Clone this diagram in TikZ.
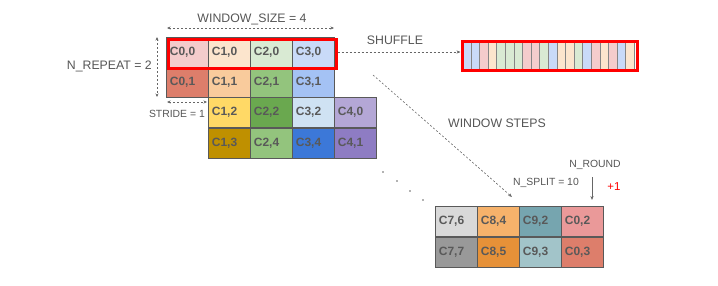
\documentclass[tikz,border=0pt]{standalone}
\usepackage{fontspec}
\setmainfont{Liberation Sans}
\usetikzlibrary{arrows.meta}
\definecolor{txt}{HTML}{595959}
\definecolor{lbl}{HTML}{555555}
\definecolor{ln}{HTML}{666666}
\definecolor{redb}{HTML}{FF0000}
\definecolor{cA}{HTML}{F4CCCC}
\definecolor{cB}{HTML}{FCE5CD}
\definecolor{cC}{HTML}{D9EAD3}
\definecolor{cD}{HTML}{C9DAF8}
\definecolor{cE}{HTML}{DD7E6B}
\definecolor{cF}{HTML}{F9CB9C}
\definecolor{cG}{HTML}{93C47D}
\definecolor{cH}{HTML}{A4C2F4}
\definecolor{cI}{HTML}{FFD966}
\definecolor{cJ}{HTML}{6AA84F}
\definecolor{cK}{HTML}{CFE2F3}
\definecolor{cL}{HTML}{B4A7D6}
\definecolor{cM}{HTML}{BF9000}
\definecolor{cN}{HTML}{3C78D8}
\definecolor{cO}{HTML}{8E7CC3}
\definecolor{cP}{HTML}{D9D9D9}
\definecolor{cQ}{HTML}{F6B26B}
\definecolor{cR}{HTML}{76A5AF}
\definecolor{cS}{HTML}{EA9999}
\definecolor{cT}{HTML}{999999}
\definecolor{cU}{HTML}{E69138}
\definecolor{cV}{HTML}{A2C4C9}
\begin{document}
\begin{tikzpicture}[x=1pt,y=-1pt,
  cell/.style={draw=txt, line width=0.7pt, fill=#1, anchor=north west, minimum height=30pt,
    text width=35pt, align=left, inner xsep=3.5pt, inner ysep=0pt,
    font=\fontsize{12}{14}\selectfont\bfseries, text=txt},
  stripe/.style={draw=ln!80, line width=0.5pt, fill=#1, anchor=north west,
    minimum width=8.6pt, minimum height=29pt, inner sep=0pt},
  lab/.style={font=\fontsize{12.3}{14}\selectfont, text=lbl, inner sep=0pt},
  slab/.style={font=\fontsize{10.4}{12}\selectfont, text=lbl, inner sep=0pt},
  dim/.style={draw=ln, line width=0.6pt, dash pattern=on 2pt off 2pt,
    {Stealth[length=3.5pt,width=3pt]}-{Stealth[length=3.5pt,width=3pt]}},
  darr/.style={draw=ln, line width=0.6pt, dash pattern=on 2pt off 2pt,
    -{Stealth[length=4pt,width=3.2pt]}},
  sarr/.style={draw=ln, line width=0.7pt, -{Stealth[length=4pt,width=3.2pt]}},
  dot/.style={circle, fill=ln, inner sep=0pt, minimum size=1.6pt}
]
\useasboundingbox (0,0) rectangle (718,285);
% main grid
\node[cell=cA] (c00) at (166,37) {C0,0};
\node[cell=cB] (c10) at (208,37) {C1,0};
\node[cell=cC] (c20) at (250,37) {C2,0};
\node[cell=cD] (c30) at (292,37) {C3,0};
\node[cell=cE] (c01) at (166,67) {C0,1};
\node[cell=cF] (c11) at (208,67) {C1,1};
\node[cell=cG] (c21) at (250,67) {C2,1};
\node[cell=cH] (c31) at (292,67) {C3,1};
\node[cell=cI] (c12) at (208,97) {C1,2};
\node[cell=cJ] (c22) at (250,97) {C2,2};
\node[cell=cK] (c32) at (292,97) {C3,2};
\node[cell=cL] (c40) at (334,97) {C4,0};
\node[cell=cM] (c13) at (208,127.5) {C1,3};
\node[cell=cG] (c24) at (250,127.5) {C2,4};
\node[cell=cN] (c34) at (292,127.5) {C3,4};
\node[cell=cO] (c41) at (334,127.5) {C4,1};
% red window
\node[draw=redb, line width=3pt, minimum width=168pt, minimum height=29pt, inner sep=0pt, anchor=north west] (win) at (166.5,37.5) {};
% bottom grid
\node[cell=cP] (c76) at (435,206) {C7,6};
\node[cell=cQ] (c84) at (477,206) {C8,4};
\node[cell=cR] (c92) at (519,206) {C9,2};
\node[cell=cS] (c02) at (561,206) {C0,2};
\node[cell=cT] (c77) at (435,236.5) {C7,7};
\node[cell=cU] (c85) at (477,236.5) {C8,5};
\node[cell=cV] (c93) at (519,236.5) {C9,3};
\node[cell=cE] (c03) at (561,236.5) {C0,3};
% shuffle bar
\foreach \c [count=\i from 0] in {cD,cD,cA,cB,cC,cC,cC,cA,cA,cC,cD,cB,cB,cC,cD,cA,cB,cA,cD,cB}{
  \node[stripe=\c] (s\i) at ({462+8.6*\i},39.5) {};
}
\node[draw=redb, line width=3pt, minimum width=175pt, minimum height=29pt, inner sep=0pt, anchor=north west] (bar) at (460.5,39.5) {};
% labels
\node[lab] (wsl) at (252,19) {WINDOW\_SIZE = 4};
\node[lab, anchor=east] (nrl) at (152,66) {N\_REPEAT = 2};
\node[slab, anchor=east] (stl) at (205,114) {STRIDE = 1};
\node[lab] (shl) at (395,40) {SHUFFLE};
\node[lab] (wstl) at (497,123) {WINDOW STEPS};
\node[slab] (nrdl) at (595,165) {N\_ROUND};
\node[slab] (nspl) at (546,183) {N\_SPLIT = 10};
\node[font=\fontsize{11.5}{13}\selectfont, text=redb, inner sep=0pt] (plus) at (614,187) {+1};
% dimension arrows
\coordinate (wsa) at (167,28); \coordinate (wsb) at (334,28);
\draw[dim] (wsa) -- (wsb);
\coordinate (nra) at (157,37); \coordinate (nrb) at (157,97);
\draw[dim] (nra) -- (nrb);
\coordinate (sta) at (167,102); \coordinate (stb) at (207,102);
\draw[dim] (sta) -- (stb);
% shuffle arrow
\draw[darr] (win.east |- 0,52) -- (bar.west |- 0,52);
% window steps
\coordinate (wsf) at (373,75); \coordinate (wst) at (512,197);
\draw[darr] (wsf) -- (wst);
% n_round arrow
\coordinate (nra1) at (592,177); \coordinate (nra2) at (592,200);
\draw[sarr] (nra1) -- (nra2);
% dots
\node[dot] (d1) at (383,172) {};
\node[dot] (d2) at (397,181) {};
\node[dot] (d3) at (410,191) {};
\node[dot] (d4) at (423,200) {};
\end{tikzpicture}
\end{document}
